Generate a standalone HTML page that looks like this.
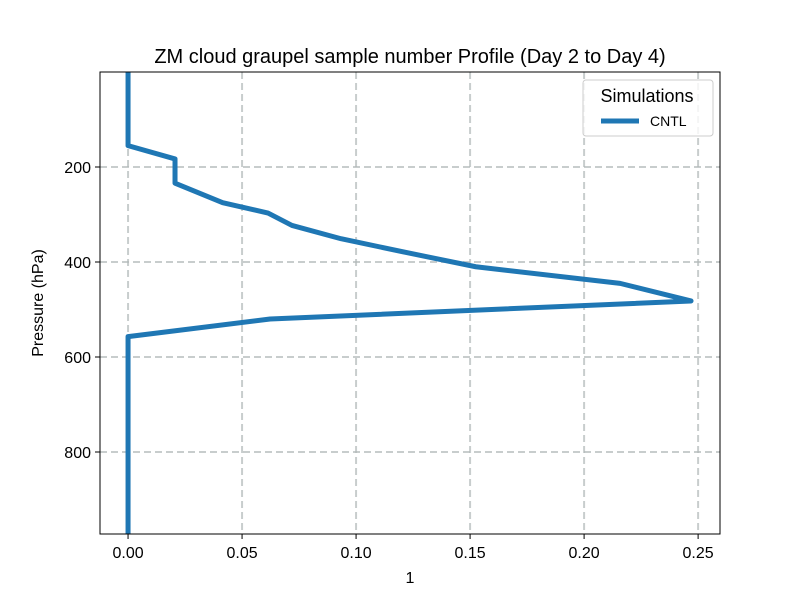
<!DOCTYPE html>
<html><head><meta charset="utf-8"><style>
body{margin:0;background:#fff}
text{font-family:"Liberation Sans","DejaVu Sans",sans-serif;fill:#000}
</style></head><body>
<svg id="chart" width="800" height="600" xmlns="http://www.w3.org/2000/svg">
<rect width="800" height="600" fill="#fff"/>
<text x="410" y="63" font-size="20" text-anchor="middle">ZM cloud graupel sample number Profile (Day 2 to Day 4)</text>
<g id="grid"></g>
<g id="ticks"></g>
<polyline id="line" fill="none" stroke="#1f77b4" stroke-width="5" stroke-linejoin="round"/>
<rect x="100" y="72" width="620" height="462" fill="none" stroke="#000" stroke-width="1"/>
<text x="410" y="583" font-size="16" text-anchor="middle">1</text>
<text x="43" y="303" font-size="16" text-anchor="middle" transform="rotate(-90 43 303)">Pressure (hPa)</text>
<g>
<rect x="583" y="80" width="130" height="56" rx="3" fill="#fff" fill-opacity="0.8" stroke="#ccc"/>
<text x="647" y="102" font-size="18" text-anchor="middle">Simulations</text>
<line x1="601" y1="121" x2="639" y2="121" stroke="#1f77b4" stroke-width="5"/>
<text x="650" y="126" font-size="14">CNTL</text>
</g>
</svg>
<script>
const xTicks=[0,0.05,0.10,0.15,0.20,0.25];
const xTickLabels=["0.00","0.05","0.10","0.15","0.20","0.25"];
const yTicks=[200,400,600,800];
const yTickLabels=["200","400","600","800"];
const pressure=[0,155,183,234,275,297,323,351,381,410,445,482,520,557,972];
const cntl=[0,0,0.0206,0.0206,0.0415,0.0614,0.0719,0.0934,0.1230,0.1525,0.2158,0.2469,0.0623,0,0];
const ns="http://www.w3.org/2000/svg";
const X0=100,X1=720,Y0=72,Y1=534;
const xMin=-0.0123,xMax=0.2596,pMin=0,pMax=972.6;
const sx=v=>X0+(v-xMin)/(xMax-xMin)*(X1-X0);
const sy=p=>Y0+(p-pMin)/(pMax-pMin)*(Y1-Y0);
const grid=document.getElementById('grid'),ticks=document.getElementById('ticks');
function mk(tag,attrs,parent){const e=document.createElementNS(ns,tag);for(const k in attrs)e.setAttribute(k,attrs[k]);parent.appendChild(e);return e;}
xTicks.forEach((v,i)=>{const x=sx(v);
const g=mk('line',{x1:x,x2:x,y1:Y0,y2:Y1,stroke:'#b0b8b8','stroke-width':2,'stroke-dasharray':'7,4','stroke-opacity':0.7},grid);


const t=mk('line',{x1:x,x2:x,y1:Y1,y2:Y1+5,stroke:'#000'},ticks);


const l=mk('text',{x:x,y:Y1+24,'font-size':16,'text-anchor':'middle'},ticks);l.textContent=xTickLabels[i];

});
yTicks.forEach((v,i)=>{const y=sy(v);
const g=mk('line',{x1:X0,x2:X1,y1:y,y2:y,stroke:'#b0b8b8','stroke-width':2,'stroke-dasharray':'7,4','stroke-opacity':0.7},grid);


const t=mk('line',{x1:X0-5,x2:X0,y1:y,y2:y,stroke:'#000'},ticks);


const l=mk('text',{x:X0-9,y:y+6,'font-size':16,'text-anchor':'end'},ticks);l.textContent=yTickLabels[i];

});
document.getElementById('line').setAttribute('points',cntl.map((v,i)=>sx(v)+','+sy(pressure[i])).join(' '));
</script>
</body></html>
